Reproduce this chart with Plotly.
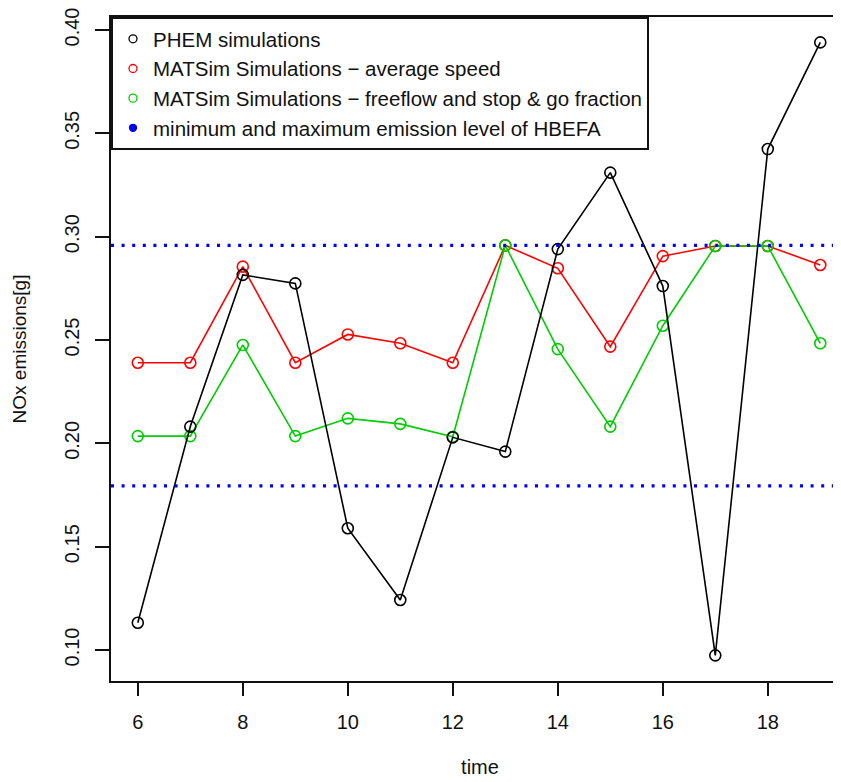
import plotly.graph_objects as go

# ---- data ----
time = [6, 7, 8, 9, 10, 11, 12, 13, 14, 15, 16, 17, 18, 19]
phem = [0.1132, 0.2081, 0.2815, 0.2774, 0.1589, 0.1242, 0.2029, 0.1960,
        0.2940, 0.3310, 0.2761, 0.0974, 0.3424, 0.3940]
matsim_avg = [0.2390, 0.2390, 0.2855, 0.2390, 0.2527, 0.2484, 0.2390, 0.2958,
              0.2847, 0.2468, 0.2906, 0.2955, 0.2955, 0.2863]
matsim_ff = [0.2035, 0.2035, 0.2476, 0.2035, 0.2121, 0.2094, 0.2032, 0.2958,
             0.2456, 0.2081, 0.2569, 0.2955, 0.2955, 0.2484]
hbefa_levels = [0.1794, 0.2958]

legend_names = ["PHEM simulations",
                "MATSim Simulations \u2212 average speed",
                "MATSim Simulations \u2212 freeflow and stop & go fraction",
                "minimum and maximum emission level of HBEFA"]
x_ticks = [6, 8, 10, 12, 14, 16, 18]
y_ticks = [0.10, 0.15, 0.20, 0.25, 0.30, 0.35, 0.40]
y_tick_labels = ["0.10", "0.15", "0.20", "0.25", "0.30", "0.35", "0.40"]

BLACK, RED, GREEN, BLUE = "#000000", "#FF0000", "#00CD00", "#0000FF"
FONT = "Liberation Sans, Arial, sans-serif"

fig = go.Figure()

# data series (drawn red, green, black so black ends on top)
for ys, col in [(matsim_avg, RED), (matsim_ff, GREEN), (phem, BLACK)]:
    fig.add_trace(go.Scatter(
        x=time, y=ys, mode="lines+markers", showlegend=False,
        line=dict(color=col, width=1.6),
        marker=dict(symbol="circle-open", size=11, color=col,
                    line=dict(color=col, width=1.6)),
    ))

# HBEFA min / max dotted lines
for lvl in hbefa_levels:
    fig.add_shape(type="line", xref="x domain", yref="y", x0=0, x1=1,
                  y0=lvl, y1=lvl,
                  line=dict(color=BLUE, width=3.4, dash="3px,7.6px"))

# legend entries (symbols only, like the R legend)
for name, col, sym, sz in [(legend_names[0], BLACK, "circle-open", 8),
                           (legend_names[1], RED, "circle-open", 8),
                           (legend_names[2], GREEN, "circle-open", 8),
                           (legend_names[3], BLUE, "circle", 7)]:
    fig.add_trace(go.Scatter(
        x=[None], y=[None], mode="markers", name=name,
        marker=dict(symbol=sym, size=sz, color=col,
                    line=dict(color=col, width=1.3)),
    ))

fig.update_layout(
    width=841, height=782,
    margin=dict(l=103, r=0, t=9, b=109),
    paper_bgcolor="white", plot_bgcolor="white",
    font=dict(family=FONT, size=20, color="#111111"),
    legend=dict(
        x=0, y=1, xanchor="left", yanchor="top",
        bordercolor="#111111", borderwidth=2, bgcolor="white",
        font=dict(size=20.5, family=FONT, color="#111111"),
        tracegroupgap=0, itemsizing="trace",
    ),
    xaxis=dict(
        range=[5.4895, 19.547], tickmode="array", tickvals=x_ticks,
        showgrid=False, zeroline=False,
        showline=True, linecolor="#111111", linewidth=2, mirror=True,
        ticks="outside", ticklen=13, tickwidth=2, tickcolor="#111111",
        ticklabelstandoff=9, ticklabeloverflow="allow",
        title=dict(text="time", font=dict(size=20), standoff=28),
        automargin=False,
    ),
    yaxis=dict(
        range=[0.085, 0.4063], tickmode="array", tickvals=y_ticks,
        ticktext=y_tick_labels, tickangle=-90,
        showgrid=False, zeroline=False,
        showline=True, linecolor="#111111", linewidth=2, mirror=False,
        ticks="outside", ticklen=14, tickwidth=2, tickcolor="#111111",
        ticklabelstandoff=8, ticklabeloverflow="allow",
        title=dict(text="NOx emissions[g]", font=dict(size=19), standoff=29),
        automargin=False,
    ),
)

fig.write_html("out.html")
